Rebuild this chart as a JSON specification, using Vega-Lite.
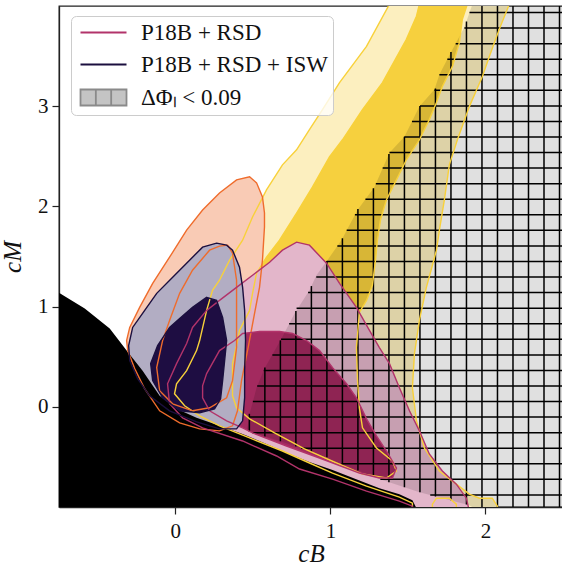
{
"$schema":"https://vega.github.io/schema/vega-lite/v6.json",
"width":504,"height":501,
"autosize":{"type":"none"},
"padding":{"left":59,"top":6,"right":0,"bottom":64},
"background":"white",
"datasets":{
"poly":[
{"g":"y2","i":0,"x":1.381,"y":4.07},{"g":"y2","i":1,"x":2.167,"y":4.07},{"g":"y2","i":2,"x":2.154,"y":4.018},{"g":"y2","i":3,"x":2.089,"y":3.768},{"g":"y2","i":4,"x":2.025,"y":3.497},{"g":"y2","i":5,"x":1.98,"y":3.297},{"g":"y2","i":6,"x":1.896,"y":2.996},{"g":"y2","i":7,"x":1.819,"y":2.665},{"g":"y2","i":8,"x":1.767,"y":2.415},{"g":"y2","i":9,"x":1.735,"y":2.064},{"g":"y2","i":10,"x":1.703,"y":1.764},{"g":"y2","i":11,"x":1.684,"y":1.563},{"g":"y2","i":12,"x":1.658,"y":1.413},{"g":"y2","i":13,"x":1.619,"y":1.192},{"g":"y2","i":14,"x":1.574,"y":0.862},{"g":"y2","i":15,"x":1.542,"y":0.531},{"g":"y2","i":16,"x":1.529,"y":0.19},{"g":"y2","i":17,"x":1.555,"y":-0.14},{"g":"y2","i":18,"x":1.606,"y":-0.411},{"g":"y2","i":19,"x":1.703,"y":-0.641},{"g":"y2","i":20,"x":1.812,"y":-0.772},{"g":"y2","i":21,"x":1.896,"y":-0.872},{"g":"y2","i":22,"x":1.961,"y":-0.912},{"g":"y2","i":23,"x":2.044,"y":-0.912},{"g":"y2","i":24,"x":2.077,"y":-0.992},{"g":"y2","i":25,"x":2.083,"y":-1.092},{"g":"y2","i":26,"x":1.812,"y":-1.092},{"g":"y2","i":27,"x":1.812,"y":-0.972},{"g":"y2","i":28,"x":1.767,"y":-0.912},{"g":"y2","i":29,"x":1.684,"y":-0.912},{"g":"y2","i":30,"x":1.658,"y":-0.972},{"g":"y2","i":31,"x":1.658,"y":-1.092},{"g":"y2","i":32,"x":1.529,"y":-1.092},{"g":"y2","i":33,"x":1.529,"y":-0.962},{"g":"y2","i":34,"x":1.445,"y":-0.902},{"g":"y2","i":35,"x":1.233,"y":-0.792},{"g":"y2","i":36,"x":1.014,"y":-0.661},{"g":"y2","i":37,"x":0.865,"y":-0.561},{"g":"y2","i":38,"x":0.691,"y":-0.441},{"g":"y2","i":39,"x":0.479,"y":-0.311},{"g":"y2","i":40,"x":0.285,"y":-0.19},{"g":"y2","i":41,"x":0.157,"y":-0.09},{"g":"y2","i":42,"x":0.06,"y":0.01},{"g":"y2","i":43,"x":-0.005,"y":0.13},{"g":"y2","i":44,"x":0.008,"y":0.23},{"g":"y2","i":45,"x":0.073,"y":0.361},{"g":"y2","i":46,"x":0.137,"y":0.561},{"g":"y2","i":47,"x":0.157,"y":0.661},{"g":"y2","i":48,"x":0.202,"y":0.962},{"g":"y2","i":49,"x":0.24,"y":1.162},{"g":"y2","i":50,"x":0.285,"y":1.263},{"g":"y2","i":51,"x":0.35,"y":1.463},{"g":"y2","i":52,"x":0.434,"y":1.663},{"g":"y2","i":53,"x":0.498,"y":1.894},{"g":"y2","i":54,"x":0.588,"y":2.164},{"g":"y2","i":55,"x":0.691,"y":2.415},{"g":"y2","i":56,"x":0.782,"y":2.565},{"g":"y2","i":57,"x":0.865,"y":2.766},{"g":"y2","i":58,"x":0.949,"y":2.966},{"g":"y2","i":59,"x":1.059,"y":3.236},{"g":"y2","i":60,"x":1.233,"y":3.597},{"g":"y2","i":61,"x":1.381,"y":4.018},
{"g":"y1","i":0,"x":1.574,"y":4.07},{"g":"y1","i":1,"x":1.883,"y":4.07},{"g":"y1","i":2,"x":1.883,"y":4.018},{"g":"y1","i":3,"x":1.851,"y":3.868},{"g":"y1","i":4,"x":1.832,"y":3.637},{"g":"y1","i":5,"x":1.787,"y":3.397},{"g":"y1","i":6,"x":1.722,"y":3.196},{"g":"y1","i":7,"x":1.684,"y":3.036},{"g":"y1","i":8,"x":1.638,"y":2.866},{"g":"y1","i":9,"x":1.574,"y":2.665},{"g":"y1","i":10,"x":1.49,"y":2.465},{"g":"y1","i":11,"x":1.426,"y":2.265},{"g":"y1","i":12,"x":1.361,"y":2.064},{"g":"y1","i":13,"x":1.323,"y":1.864},{"g":"y1","i":14,"x":1.303,"y":1.663},{"g":"y1","i":15,"x":1.291,"y":1.463},{"g":"y1","i":16,"x":1.271,"y":1.212},{"g":"y1","i":17,"x":1.233,"y":1.062},{"g":"y1","i":18,"x":1.187,"y":0.942},{"g":"y1","i":19,"x":1.168,"y":0.591},{"g":"y1","i":20,"x":1.175,"y":0.261},{"g":"y1","i":21,"x":1.187,"y":-0.01},{"g":"y1","i":22,"x":1.207,"y":-0.21},{"g":"y1","i":23,"x":1.297,"y":-0.411},{"g":"y1","i":24,"x":1.4,"y":-0.541},{"g":"y1","i":25,"x":1.426,"y":-0.641},{"g":"y1","i":26,"x":1.361,"y":-0.711},{"g":"y1","i":27,"x":1.207,"y":-0.671},{"g":"y1","i":28,"x":1.039,"y":-0.561},{"g":"y1","i":29,"x":0.833,"y":-0.421},{"g":"y1","i":30,"x":0.64,"y":-0.261},{"g":"y1","i":31,"x":0.479,"y":-0.12},{"g":"y1","i":32,"x":0.395,"y":-0.01},{"g":"y1","i":33,"x":0.369,"y":0.11},{"g":"y1","i":34,"x":0.369,"y":0.431},{"g":"y1","i":35,"x":0.395,"y":0.611},{"g":"y1","i":36,"x":0.414,"y":0.762},{"g":"y1","i":37,"x":0.479,"y":0.962},{"g":"y1","i":38,"x":0.498,"y":1.132},{"g":"y1","i":39,"x":0.524,"y":1.333},{"g":"y1","i":40,"x":0.588,"y":1.493},{"g":"y1","i":41,"x":0.672,"y":1.663},{"g":"y1","i":42,"x":0.782,"y":1.934},{"g":"y1","i":43,"x":0.885,"y":2.194},{"g":"y1","i":44,"x":0.994,"y":2.495},{"g":"y1","i":45,"x":1.078,"y":2.665},{"g":"y1","i":46,"x":1.207,"y":2.966},{"g":"y1","i":47,"x":1.336,"y":3.236},{"g":"y1","i":48,"x":1.49,"y":3.667},{"g":"y1","i":49,"x":1.555,"y":3.898},{"g":"y1","i":50,"x":1.574,"y":4.018},
{"g":"o2","i":0,"x":0.479,"y":2.295},{"g":"o2","i":1,"x":0.524,"y":2.235},{"g":"o2","i":2,"x":0.562,"y":2.094},{"g":"o2","i":3,"x":0.575,"y":1.934},{"g":"o2","i":4,"x":0.575,"y":1.794},{"g":"o2","i":5,"x":0.562,"y":1.463},{"g":"o2","i":6,"x":0.543,"y":1.192},{"g":"o2","i":7,"x":0.511,"y":0.932},{"g":"o2","i":8,"x":0.472,"y":0.611},{"g":"o2","i":9,"x":0.427,"y":0.261},{"g":"o2","i":10,"x":0.401,"y":-0.04},{"g":"o2","i":11,"x":0.369,"y":-0.19},{"g":"o2","i":12,"x":0.285,"y":-0.24},{"g":"o2","i":13,"x":0.157,"y":-0.22},{"g":"o2","i":14,"x":0.028,"y":-0.16},{"g":"o2","i":15,"x":-0.101,"y":-0.04},{"g":"o2","i":16,"x":-0.198,"y":0.18},{"g":"o2","i":17,"x":-0.262,"y":0.381},{"g":"o2","i":18,"x":-0.307,"y":0.561},{"g":"o2","i":19,"x":-0.314,"y":0.661},{"g":"o2","i":20,"x":-0.294,"y":0.792},{"g":"o2","i":21,"x":-0.23,"y":0.992},{"g":"o2","i":22,"x":-0.146,"y":1.232},{"g":"o2","i":23,"x":-0.037,"y":1.493},{"g":"o2","i":24,"x":0.073,"y":1.764},{"g":"o2","i":25,"x":0.176,"y":1.964},{"g":"o2","i":26,"x":0.285,"y":2.134},{"g":"o2","i":27,"x":0.395,"y":2.265},
{"g":"o1","i":0,"x":0.337,"y":1.613},{"g":"o1","i":1,"x":0.369,"y":1.533},{"g":"o1","i":2,"x":0.395,"y":1.263},{"g":"o1","i":3,"x":0.395,"y":0.932},{"g":"o1","i":4,"x":0.395,"y":0.591},{"g":"o1","i":5,"x":0.369,"y":0.261},{"g":"o1","i":6,"x":0.331,"y":0.09},{"g":"o1","i":7,"x":0.221,"y":-0.01},{"g":"o1","i":8,"x":0.111,"y":-0.04},{"g":"o1","i":9,"x":-0.017,"y":0.03},{"g":"o1","i":10,"x":-0.101,"y":0.16},{"g":"o1","i":11,"x":-0.12,"y":0.391},{"g":"o1","i":12,"x":-0.082,"y":0.661},{"g":"o1","i":13,"x":-0.037,"y":0.862},{"g":"o1","i":14,"x":0.028,"y":1.132},{"g":"o1","i":15,"x":0.111,"y":1.363},{"g":"o1","i":16,"x":0.221,"y":1.563},{"g":"o1","i":17,"x":0.285,"y":1.603},
{"g":"k2","i":0,"x":0.691,"y":1.563},{"g":"k2","i":1,"x":0.782,"y":1.643},{"g":"k2","i":2,"x":0.865,"y":1.613},{"g":"k2","i":3,"x":0.975,"y":1.433},{"g":"k2","i":4,"x":1.059,"y":1.232},{"g":"k2","i":5,"x":1.168,"y":0.992},{"g":"k2","i":6,"x":1.252,"y":0.762},{"g":"k2","i":7,"x":1.316,"y":0.591},{"g":"k2","i":8,"x":1.381,"y":0.431},{"g":"k2","i":9,"x":1.445,"y":0.19},{"g":"k2","i":10,"x":1.51,"y":-0.04},{"g":"k2","i":11,"x":1.574,"y":-0.24},{"g":"k2","i":12,"x":1.638,"y":-0.471},{"g":"k2","i":13,"x":1.722,"y":-0.641},{"g":"k2","i":14,"x":1.812,"y":-0.772},{"g":"k2","i":15,"x":1.877,"y":-0.912},{"g":"k2","i":16,"x":1.903,"y":-1.092},{"g":"k2","i":17,"x":1.529,"y":-1.092},{"g":"k2","i":18,"x":1.529,"y":-0.992},{"g":"k2","i":19,"x":1.445,"y":-0.942},{"g":"k2","i":20,"x":1.233,"y":-0.842},{"g":"k2","i":21,"x":1.014,"y":-0.721},{"g":"k2","i":22,"x":0.801,"y":-0.621},{"g":"k2","i":23,"x":0.653,"y":-0.491},{"g":"k2","i":24,"x":0.434,"y":-0.341},{"g":"k2","i":25,"x":0.176,"y":-0.21},{"g":"k2","i":26,"x":0.047,"y":-0.11},{"g":"k2","i":27,"x":-0.037,"y":0.03},{"g":"k2","i":28,"x":-0.05,"y":0.23},{"g":"k2","i":29,"x":0.008,"y":0.431},{"g":"k2","i":30,"x":0.073,"y":0.631},{"g":"k2","i":31,"x":0.111,"y":0.792},{"g":"k2","i":32,"x":0.202,"y":0.962},{"g":"k2","i":33,"x":0.285,"y":1.062},{"g":"k2","i":34,"x":0.395,"y":1.192},{"g":"k2","i":35,"x":0.498,"y":1.313},{"g":"k2","i":36,"x":0.608,"y":1.443},
{"g":"k1","i":0,"x":0.434,"y":0.732},{"g":"k1","i":1,"x":0.543,"y":0.752},{"g":"k1","i":2,"x":0.672,"y":0.752},{"g":"k1","i":3,"x":0.756,"y":0.732},{"g":"k1","i":4,"x":0.846,"y":0.661},{"g":"k1","i":5,"x":0.93,"y":0.561},{"g":"k1","i":6,"x":1.014,"y":0.391},{"g":"k1","i":7,"x":1.104,"y":0.23},{"g":"k1","i":8,"x":1.168,"y":0.09},{"g":"k1","i":9,"x":1.233,"y":-0.12},{"g":"k1","i":10,"x":1.297,"y":-0.291},{"g":"k1","i":11,"x":1.361,"y":-0.441},{"g":"k1","i":12,"x":1.426,"y":-0.611},{"g":"k1","i":13,"x":1.4,"y":-0.711},{"g":"k1","i":14,"x":1.316,"y":-0.711},{"g":"k1","i":15,"x":1.187,"y":-0.661},{"g":"k1","i":16,"x":0.93,"y":-0.511},{"g":"k1","i":17,"x":0.717,"y":-0.391},{"g":"k1","i":18,"x":0.498,"y":-0.261},{"g":"k1","i":19,"x":0.434,"y":-0.21},{"g":"k1","i":20,"x":0.331,"y":-0.14},{"g":"k1","i":21,"x":0.221,"y":-0.04},{"g":"k1","i":22,"x":0.176,"y":0.09},{"g":"k1","i":23,"x":0.176,"y":0.21},{"g":"k1","i":24,"x":0.202,"y":0.331},{"g":"k1","i":25,"x":0.285,"y":0.561},{"g":"k1","i":26,"x":0.382,"y":0.661},
{"g":"p2","i":0,"x":0.266,"y":1.633},{"g":"p2","i":1,"x":0.331,"y":1.613},{"g":"p2","i":2,"x":0.369,"y":1.563},{"g":"p2","i":3,"x":0.414,"y":1.393},{"g":"p2","i":4,"x":0.434,"y":1.192},{"g":"p2","i":5,"x":0.447,"y":0.962},{"g":"p2","i":6,"x":0.453,"y":0.661},{"g":"p2","i":7,"x":0.447,"y":0.361},{"g":"p2","i":8,"x":0.447,"y":0.09},{"g":"p2","i":9,"x":0.434,"y":-0.14},{"g":"p2","i":10,"x":0.395,"y":-0.22},{"g":"p2","i":11,"x":0.285,"y":-0.22},{"g":"p2","i":12,"x":0.137,"y":-0.15},{"g":"p2","i":13,"x":-0.037,"y":-0.04},{"g":"p2","i":14,"x":-0.166,"y":0.11},{"g":"p2","i":15,"x":-0.243,"y":0.281},{"g":"p2","i":16,"x":-0.294,"y":0.461},{"g":"p2","i":17,"x":-0.301,"y":0.611},{"g":"p2","i":18,"x":-0.275,"y":0.792},{"g":"p2","i":19,"x":-0.211,"y":0.932},{"g":"p2","i":20,"x":-0.12,"y":1.132},{"g":"p2","i":21,"x":-0.017,"y":1.293},{"g":"p2","i":22,"x":0.092,"y":1.463},{"g":"p2","i":23,"x":0.176,"y":1.593},
{"g":"p1","i":0,"x":0.202,"y":1.092},{"g":"p1","i":1,"x":0.266,"y":1.062},{"g":"p1","i":2,"x":0.305,"y":0.892},{"g":"p1","i":3,"x":0.331,"y":0.661},{"g":"p1","i":4,"x":0.318,"y":0.461},{"g":"p1","i":5,"x":0.305,"y":0.261},{"g":"p1","i":6,"x":0.292,"y":0.08},{"g":"p1","i":7,"x":0.253,"y":-0.02},{"g":"p1","i":8,"x":0.157,"y":-0.06},{"g":"p1","i":9,"x":0.028,"y":-0.04},{"g":"p1","i":10,"x":-0.082,"y":0.09},{"g":"p1","i":11,"x":-0.146,"y":0.261},{"g":"p1","i":12,"x":-0.159,"y":0.431},{"g":"p1","i":13,"x":-0.114,"y":0.611},{"g":"p1","i":14,"x":-0.037,"y":0.792},{"g":"p1","i":15,"x":0.028,"y":0.882},{"g":"p1","i":16,"x":0.111,"y":0.992},
{"g":"bk","i":0,"x":-0.8,"y":1.17},{"g":"bk","i":1,"x":-0.745,"y":1.132},{"g":"bk","i":2,"x":-0.584,"y":0.982},{"g":"bk","i":3,"x":-0.423,"y":0.782},{"g":"bk","i":4,"x":-0.314,"y":0.561},{"g":"bk","i":5,"x":-0.211,"y":0.361},{"g":"bk","i":6,"x":-0.101,"y":0.11},{"g":"bk","i":7,"x":0.008,"y":-0.02},{"g":"bk","i":8,"x":0.137,"y":-0.11},{"g":"bk","i":9,"x":0.285,"y":-0.19},{"g":"bk","i":10,"x":0.434,"y":-0.271},{"g":"bk","i":11,"x":0.588,"y":-0.371},{"g":"bk","i":12,"x":0.736,"y":-0.471},{"g":"bk","i":13,"x":0.865,"y":-0.551},{"g":"bk","i":14,"x":1.014,"y":-0.631},{"g":"bk","i":15,"x":1.233,"y":-0.762},{"g":"bk","i":16,"x":1.316,"y":-0.812},{"g":"bk","i":17,"x":1.445,"y":-0.872},{"g":"bk","i":18,"x":1.529,"y":-0.932},{"g":"bk","i":19,"x":1.555,"y":-1.012},{"g":"bk","i":20,"x":1.56,"y":-1.1},{"g":"bk","i":21,"x":-0.8,"y":-1.1},
{"g":"ht","i":0,"x":1.92,"y":4.1},{"g":"ht","i":1,"x":1.916,"y":4.018},{"g":"ht","i":2,"x":1.864,"y":3.788},{"g":"ht","i":3,"x":1.812,"y":3.637},{"g":"ht","i":4,"x":1.78,"y":3.547},{"g":"ht","i":5,"x":1.703,"y":3.317},{"g":"ht","i":6,"x":1.671,"y":3.166},{"g":"ht","i":7,"x":1.574,"y":2.996},{"g":"ht","i":8,"x":1.477,"y":2.695},{"g":"ht","i":9,"x":1.381,"y":2.535},{"g":"ht","i":10,"x":1.284,"y":2.194},{"g":"ht","i":11,"x":1.175,"y":1.964},{"g":"ht","i":12,"x":1.071,"y":1.663},{"g":"ht","i":13,"x":0.981,"y":1.463},{"g":"ht","i":14,"x":0.91,"y":1.313},{"g":"ht","i":15,"x":0.865,"y":1.162},{"g":"ht","i":16,"x":0.769,"y":0.932},{"g":"ht","i":17,"x":0.685,"y":0.681},{"g":"ht","i":18,"x":0.575,"y":0.381},{"g":"ht","i":19,"x":0.524,"y":0.19},{"g":"ht","i":20,"x":0.479,"y":-0.07},{"g":"ht","i":21,"x":0.461,"y":-0.24},{"g":"ht","i":22,"x":0.672,"y":-0.341},{"g":"ht","i":23,"x":0.865,"y":-0.441},{"g":"ht","i":24,"x":1.058,"y":-0.561},{"g":"ht","i":25,"x":1.316,"y":-0.721},{"g":"ht","i":26,"x":1.574,"y":-0.852},{"g":"ht","i":27,"x":1.748,"y":-0.922},{"g":"ht","i":28,"x":1.896,"y":-0.982},{"g":"ht","i":29,"x":1.928,"y":-1.012},{"g":"ht","i":30,"x":1.93,"y":-1.1},{"g":"ht","i":31,"x":2.6,"y":-1.1},{"g":"ht","i":32,"x":2.6,"y":4.1}
],
"hl":[
{"y":3.935,"x":1.897},{"y":3.78,"x":1.864},{"y":3.624,"x":1.808},{"y":3.469,"x":1.754},{"y":3.314,"x":1.703},{"y":3.158,"x":1.671},{"y":3.003,"x":1.578},{"y":2.848,"x":1.526},{"y":2.693,"x":1.477},{"y":2.537,"x":1.381},{"y":2.382,"x":1.337},{"y":2.227,"x":1.293},{"y":2.071,"x":1.226},{"y":1.916,"x":1.158},{"y":1.761,"x":1.105},{"y":1.606,"x":1.045},{"y":1.45,"x":0.976},{"y":1.295,"x":0.909},{"y":1.14,"x":0.856},{"y":0.984,"x":0.782},{"y":0.829,"x":0.734},{"y":0.674,"x":0.682},{"y":0.518,"x":0.626},{"y":0.363,"x":0.57},{"y":0.208,"x":0.528},{"y":0.052,"x":0.5},{"y":-0.103,"x":0.475},{"y":-0.258,"x":0.497},{"y":-0.414,"x":0.811},{"y":-0.569,"x":1.072},{"y":-0.724,"x":1.322},{"y":-0.88,"x":1.644}
],
"vl":[
{"x":0.4775,"y":-0.251,"y2":-0.07},{"x":0.5775,"y":-0.297,"y2":0.391},{"x":0.6775,"y":-0.344,"y2":0.663},{"x":0.7775,"y":-0.396,"y2":0.955},{"x":0.8775,"y":-0.449,"y2":1.205},{"x":0.9775,"y":-0.503,"y2":1.456},{"x":1.0775,"y":-0.573,"y2":1.682},{"x":1.1775,"y":-0.635,"y2":1.974},{"x":1.2775,"y":-0.697,"y2":2.18},{"x":1.3775,"y":-0.752,"y2":2.524},{"x":1.4775,"y":-0.802,"y2":2.695},{"x":1.5775,"y":-0.854,"y2":3.001},{"x":1.6775,"y":-0.894,"y2":3.176},{"x":1.7775,"y":-0.933,"y2":3.54},{"x":1.8775,"y":-0.974,"y2":3.845},{"x":1.9775,"y":-1.1,"y2":4.1},{"x":2.0775,"y":-1.1,"y2":4.1},{"x":2.1775,"y":-1.1,"y2":4.1},{"x":2.2775,"y":-1.1,"y2":4.1},{"x":2.3775,"y":-1.1,"y2":4.1},{"x":2.4775,"y":-1.1,"y2":4.1}
],
"leg":[
{"k":"P18B + RSD","x":-5,"y":-5},{"k":"P18B + RSD + ISW","x":-5,"y":-5},{"k":"ΔΦₗ < 0.09","x":-5,"y":-5}
]
},
"encoding":{
"x":{"field":"x","type":"quantitative","title":"cB","scale":{"domain":[-0.75,2.5],"nice":false,"zero":false},"axis":{"values":[0,1,2],"format":"d"}},
"y":{"field":"y","type":"quantitative","title":"cM","scale":{"domain":[-1,4],"nice":false,"zero":false},"axis":{"values":[0,1,2,3],"format":"d"}}
},
"layer":[
{"data":{"name":"poly"},"transform":[{"filter":"datum.g==='y2'"}],"mark":{"type":"line","interpolate":"linear-closed","fill":"#fcefbf","strokeOpacity":0,"clip":true},"encoding":{"order":{"field":"i","type":"quantitative"}}},
{"data":{"name":"poly"},"transform":[{"filter":"datum.g==='y1'"}],"mark":{"type":"line","interpolate":"linear-closed","fill":"#f6d03e","strokeOpacity":0,"clip":true},"encoding":{"order":{"field":"i","type":"quantitative"}}},
{"data":{"name":"poly"},"transform":[{"filter":"datum.g==='o2'"}],"mark":{"type":"line","interpolate":"linear-closed","fill":"#f9cbb5","strokeOpacity":0,"clip":true},"encoding":{"order":{"field":"i","type":"quantitative"}}},
{"data":{"name":"poly"},"transform":[{"filter":"datum.g==='k2'"}],"mark":{"type":"line","interpolate":"linear-closed","fill":"#e3b6ca","strokeOpacity":0,"clip":true},"encoding":{"order":{"field":"i","type":"quantitative"}}},
{"data":{"name":"poly"},"transform":[{"filter":"datum.g==='k1'"}],"mark":{"type":"line","interpolate":"linear-closed","fill":"#a32a5f","strokeOpacity":0,"clip":true},"encoding":{"order":{"field":"i","type":"quantitative"}}},
{"data":{"name":"poly"},"transform":[{"filter":"datum.g==='p2'"}],"mark":{"type":"line","interpolate":"linear-closed","fill":"#b2adc3","strokeOpacity":0,"clip":true},"encoding":{"order":{"field":"i","type":"quantitative"}}},
{"data":{"name":"poly"},"transform":[{"filter":"datum.g==='p1'"}],"mark":{"type":"line","interpolate":"linear-closed","fill":"#1e0d42","strokeOpacity":0,"clip":true},"encoding":{"order":{"field":"i","type":"quantitative"}}},
{"data":{"name":"poly"},"transform":[{"filter":"datum.g==='ht'"}],"mark":{"type":"line","interpolate":"linear-closed","fill":"#000000","fillOpacity":0.12,"strokeOpacity":0,"clip":true},"encoding":{"order":{"field":"i","type":"quantitative"}}},
{"data":{"name":"hl"},"mark":{"type":"rule","color":"#000000","strokeWidth":1.5,"clip":true},"encoding":{"x2":{"datum":2.6}}},
{"data":{"name":"vl"},"mark":{"type":"rule","color":"#000000","strokeWidth":1.5,"clip":true},"encoding":{"y2":{"field":"y2"}}},
{"data":{"name":"poly"},"transform":[{"filter":"datum.g==='bk'"}],"mark":{"type":"line","interpolate":"linear-closed","fill":"#000000","strokeOpacity":0,"clip":true},"encoding":{"order":{"field":"i","type":"quantitative"}}},
{"data":{"name":"poly"},"transform":[{"filter":"datum.g!=='bk' && datum.g!=='ht'"}],"mark":{"type":"line","interpolate":"linear-closed","strokeWidth":1.4,"clip":true},"encoding":{"order":{"field":"i","type":"quantitative"},"color":{"field":"g","type":"nominal","legend":null,"scale":{"domain":["y2","y1","o2","o1","k2","k1","p2","p1"],"range":["#f8d13a","#f8d13a","#ef6c2c","#ef6c2c","#b2336a","#b2336a","#1b0f3f","#1b0f3f"]}}}},
{"data":{"name":"leg"},"mark":{"type":"point","clip":true,"opacity":1,"size":20},"encoding":{
"shape":{"field":"k","type":"nominal","scale":{"domain":["P18B + RSD","P18B + RSD + ISW","ΔΦₗ < 0.09"],"range":["M-0.7,0H3.9","M-0.7,0H3.9","M-0.7,-0.8H3.9V0.8H-0.7Z M0.833,-0.8V0.8 M2.367,-0.8V0.8"]},"legend":{"title":null,"orient":"none","legendX":12,"legendY":10,"labelFont":"Liberation Serif","labelFontSize":23}},
"stroke":{"field":"k","type":"nominal","scale":{"domain":["P18B + RSD","P18B + RSD + ISW","ΔΦₗ < 0.09"],"range":["#b2336a","#1b0f3f","#8a8a8a"]},"legend":{"title":null,"orient":"none","legendX":12,"legendY":10,"labelFont":"Liberation Serif","labelFontSize":23}},
"fill":{"field":"k","type":"nominal","scale":{"domain":["P18B + RSD","P18B + RSD + ISW","ΔΦₗ < 0.09"],"range":["transparent","transparent","#c4c4c4"]},"legend":{"title":null,"orient":"none","legendX":12,"legendY":10,"labelFont":"Liberation Serif","labelFontSize":23}}
}}
],
"config":{
"font":"Liberation Serif",
"view":{"stroke":"#222222","strokeWidth":1.3},
"axis":{"domain":true,"domainColor":"#222222","domainWidth":1.3,"grid":false,"tickSize":7,"tickWidth":1.2,"tickColor":"#222222","labelFont":"Liberation Serif","labelFontSize":21,"labelColor":"#111111","labelPadding":4,"titleFont":"Liberation Serif","titleFontSize":25,"titleFontStyle":"italic","titleFontWeight":"normal","titleColor":"#111111","zindex":1},
"axisX":{"labelPadding":6,"titlePadding":0},
"axisY":{"titlePadding":12},
"legend":{"padding":5,"fillColor":"rgba(255,255,255,0.8)","strokeColor":"#cccccc","cornerRadius":5,"labelFont":"Liberation Serif","labelFontSize":23,"labelColor":"#111111","labelOffset":42,"symbolSize":400,"symbolStrokeWidth":1.8,"rowPadding":8,"labelLimit":400}
}
}
